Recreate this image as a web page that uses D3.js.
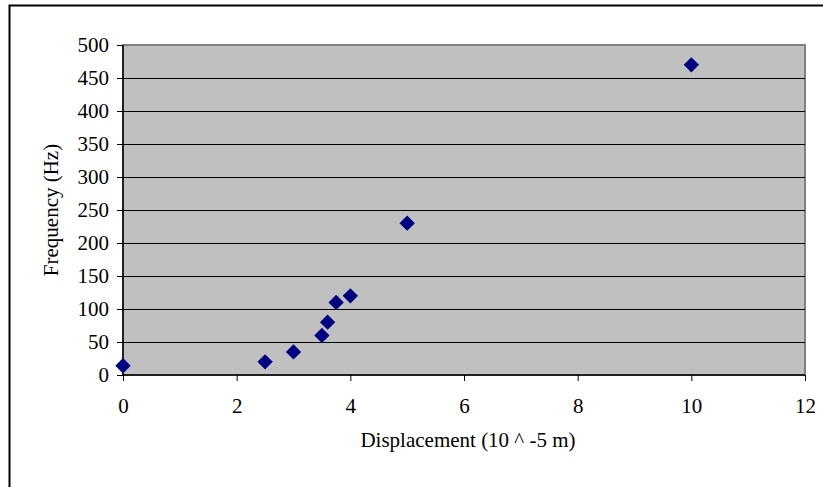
<!DOCTYPE html>
<html><head><meta charset="utf-8">
<script src="https://cdn.jsdelivr.net/npm/d3@7"></script>
<style>html,body{margin:0;padding:0;background:#fff;overflow:hidden}svg{display:block}</style>
</head><body>
<script>
const displacement = [0, 2.5, 3, 3.5, 3.6, 3.75, 4, 5, 10];
const frequency = [14, 20, 35, 60, 80, 110, 120, 230, 470];
const xTicks = [0, 2, 4, 6, 8, 10, 12];
const yTicks = [0, 50, 100, 150, 200, 250, 300, 350, 400, 450, 500];
const xTitle = "Displacement (10 ^ -5 m)";
const yTitle = "Frequency (Hz)";

const W = 823, H = 487;
const m = {left: 123, top: 45, right: 805, bottom: 375};
const font = "'Liberation Serif','Times New Roman',serif";
const fs = 21;

const svg = d3.select("body").append("svg").attr("width", W).attr("height", H);

// outer chart border (extends past viewport on right/bottom)
svg.append("rect").attr("x", 9.5).attr("y", 5.5).attr("width", 900).attr("height", 600)
  .attr("fill", "#fff").attr("stroke", "#000").attr("stroke-width", 2);

const x = d3.scaleLinear().domain([0, 12]).range([m.left, m.right]);
const y = d3.scaleLinear().domain([0, 500]).range([m.bottom, m.top]);

// plot area
svg.append("rect").attr("x", m.left).attr("y", m.top)
  .attr("width", m.right - m.left).attr("height", m.bottom - m.top)
  .attr("fill", "#c0c0c0").attr("stroke", "#808080").attr("stroke-width", 2);

// gridlines
svg.append("g").selectAll("line").data(yTicks.filter(d => d > 0 && d < 500)).join("line")
  .attr("x1", m.left).attr("x2", m.right)
  .attr("y1", d => Math.round(y(d)) + 0.5).attr("y2", d => Math.round(y(d)) + 0.5)
  .attr("stroke", "#000").attr("stroke-width", 1);

// axes
const yAxis = d3.axisLeft(y).tickValues(yTicks).tickSize(6).tickPadding(8);
const gy = svg.append("g").attr("transform", `translate(${m.left},0)`).call(yAxis);
const xAxis = d3.axisBottom(x).tickValues(xTicks).tickSize(6).tickPadding(17);
const gx = svg.append("g").attr("transform", `translate(0,${m.bottom})`).call(xAxis);
[gx, gy].forEach(g => {
  g.select(".domain").remove();
  g.selectAll(".tick line").attr("stroke", "#000");
  g.selectAll("text").attr("font-family", font).attr("font-size", fs).attr("fill", "#000");
});
gy.append("line").attr("x1", 0).attr("x2", 0).attr("y1", m.top).attr("y2", m.bottom).attr("stroke", "#000").attr("stroke-width", 1.5);
gx.append("line").attr("x1", m.left).attr("x2", m.right).attr("y1", 0).attr("y2", 0).attr("stroke", "#000").attr("stroke-width", 1.5);

// points
const pts = displacement.map((d, i) => ({x: d, y: frequency[i]}));
svg.append("g").selectAll("path").data(pts).join("path")
  .attr("d", d3.symbol().type(d3.symbolDiamond2).size(150))
  .attr("transform", d => `translate(${x(d.x)},${y(d.y)})`)
  .attr("fill", "#000080");

// titles
svg.append("text").attr("x", (m.left + m.right) / 2 + 4).attr("y", 447)
  .attr("text-anchor", "middle").attr("font-family", font).attr("font-size", fs).text(xTitle);
svg.append("text").attr("transform", `translate(58,${(m.top + m.bottom) / 2}) rotate(-90)`)
  .attr("text-anchor", "middle").attr("font-family", font).attr("font-size", fs).text(yTitle);
</script>
</body></html>
